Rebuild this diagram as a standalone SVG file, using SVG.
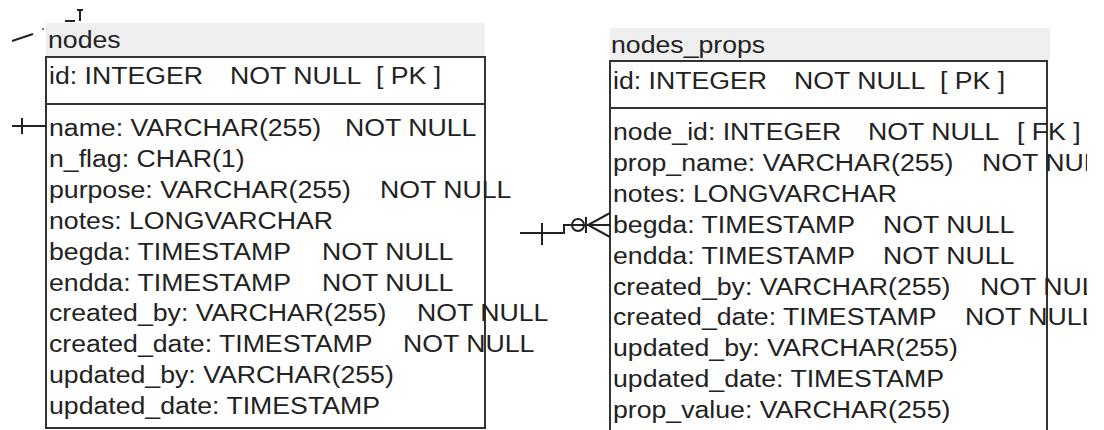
<svg xmlns="http://www.w3.org/2000/svg" width="1104" height="430" viewBox="0 0 1104 430">
<defs>
<style>
.title{fill:#efefef;stroke:none}
.box{fill:#fff;stroke:#333;stroke-width:2}
.sep{stroke:#333;stroke-width:2}
.t{font-family:"Liberation Sans",Arial,sans-serif;font-size:23px;fill:#222}
.c{stroke:#222;stroke-width:2;fill:none}
</style>
<clipPath id="clipR"><rect x="600" y="0" width="487" height="430"/></clipPath>
</defs>
<rect x="0" y="0" width="1104" height="430" fill="#fff"/>

<g id="nodes">
<rect class="title" x="46" y="23" width="439" height="34"/>
<rect class="box" x="46" y="57" width="439" height="371"/>
<line class="sep" x1="46" y1="104" x2="485" y2="104"/>
<g transform="scale(1.16 1)" class="t">
<text x="41.38" y="48">nodes</text>
<text y="84"><tspan x="42.24">id: INTEGER</tspan><tspan x="198.28">NOT NULL</tspan><tspan x="324.14">[ PK ]</tspan></text>
<text y="136"><tspan x="42.24">name: VARCHAR(255)</tspan><tspan x="297.41">NOT NULL</tspan></text>
<text x="42.24" y="167">n_flag: CHAR(1)</text>
<text y="198"><tspan x="42.24">purpose: VARCHAR(255)</tspan><tspan x="327.59">NOT NULL</tspan></text>
<text x="42.24" y="229">notes: LONGVARCHAR</text>
<text y="260"><tspan x="42.24">begda: TIMESTAMP</tspan><tspan x="277.59">NOT NULL</tspan></text>
<text y="291"><tspan x="42.24">endda: TIMESTAMP</tspan><tspan x="277.59">NOT NULL</tspan></text>
<text y="321"><tspan x="42.24">created_by: VARCHAR(255)</tspan><tspan x="359.48">NOT NULL</tspan></text>
<text y="352"><tspan x="42.24">created_date: TIMESTAMP</tspan><tspan x="347.41">NOT NULL</tspan></text>
<text x="42.24" y="383">updated_by: VARCHAR(255)</text>
<text x="42.24" y="414">updated_date: TIMESTAMP</text>
</g>
</g>

<g id="nodes_props">
<rect class="title" x="610" y="28" width="440" height="33"/>
<rect class="box" x="610" y="61" width="437" height="380"/>
<line class="sep" x1="610" y1="108" x2="1047" y2="108"/>
<g clip-path="url(#clipR)">
<g transform="scale(1.16 1)" class="t">
<text x="526.72" y="53">nodes_props</text>
<text y="89"><tspan x="528.45">id: INTEGER</tspan><tspan x="684.48">NOT NULL</tspan><tspan x="810.34">[ PK ]</tspan></text>
<text y="140"><tspan x="528.45">node_id: INTEGER</tspan><tspan x="748.28">NOT NULL</tspan><tspan x="876.72">[ FK ]</tspan></text>
<text y="171"><tspan x="528.45">prop_name: VARCHAR(255)</tspan><tspan x="846.55">NOT NULL</tspan></text>
<text x="528.45" y="202">notes: LONGVARCHAR</text>
<text y="233"><tspan x="528.45">begda: TIMESTAMP</tspan><tspan x="761.21">NOT NULL</tspan></text>
<text y="264"><tspan x="528.45">endda: TIMESTAMP</tspan><tspan x="761.21">NOT NULL</tspan></text>
<text y="295"><tspan x="528.45">created_by: VARCHAR(255)</tspan><tspan x="844.83">NOT NULL</tspan></text>
<text y="325"><tspan x="528.45">created_date: TIMESTAMP</tspan><tspan x="831.90">NOT NULL</tspan></text>
<text x="528.45" y="356">updated_by: VARCHAR(255)</text>
<text x="528.45" y="387">updated_date: TIMESTAMP</text>
<text x="528.45" y="418">prop_value: VARCHAR(255)</text>
</g>
</g>
</g>

<g id="connectors">
<path class="c" d="M520,233 H564 V225 H610"/>
<line class="c" x1="542" y1="223" x2="542" y2="245"/>
<circle class="c" cx="578" cy="225" r="6"/>
<line class="c" x1="586" y1="217" x2="586" y2="233"/>
<path class="c" d="M610,213 L588,225 L610,237"/>
<path class="c" d="M12,126 H46"/>
<line class="c" x1="22" y1="118" x2="22" y2="134"/>
<line class="c" x1="12" y1="41" x2="33" y2="34" stroke-width="1.5"/>
<circle cx="43" cy="29" r="1" fill="#555"/>
<line class="c" x1="65" y1="21" x2="75" y2="21" stroke-width="1.5"/>
<line class="c" x1="80" y1="9" x2="80" y2="21" stroke-width="1.5"/>
<line class="c" x1="77" y1="10" x2="83" y2="10" stroke-width="1.5"/>
</g>
</svg>
